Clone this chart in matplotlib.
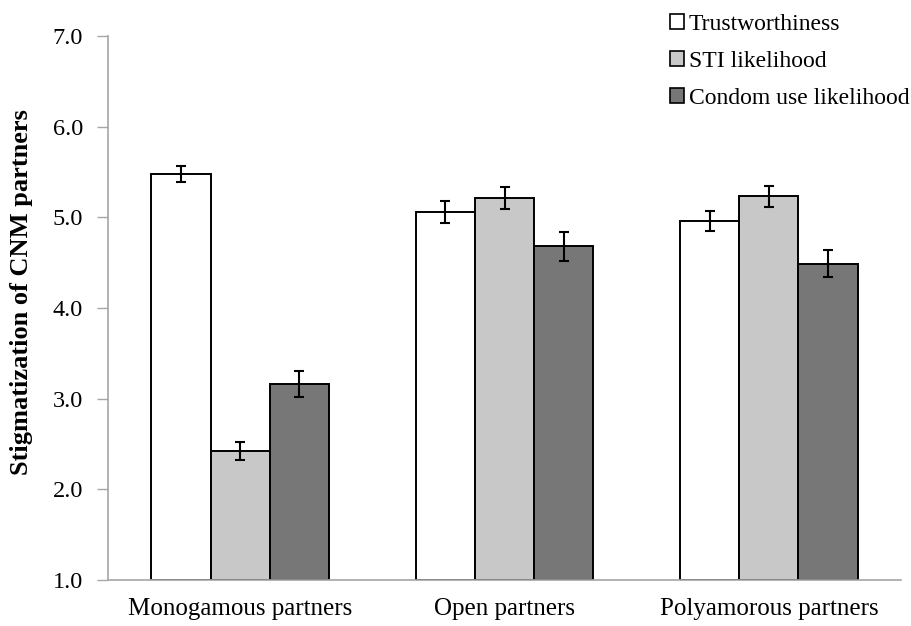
import matplotlib
matplotlib.use("Agg")
import matplotlib.pyplot as plt
import numpy as np

plt.rcParams['font.family'] = ['Liberation Serif', 'DejaVu Serif']

categories = ["Monogamous partners", "Open partners", "Polyamorous partners"]
series_names = ["Trustworthiness", "STI likelihood", "Condom use likelihood"]
trust = [5.48, 5.06, 4.96]
sti = [2.42, 5.21, 5.23]
condom = [3.16, 4.68, 4.49]
trust_err = [0.09, 0.12, 0.11]
sti_err = [0.10, 0.12, 0.12]
condom_err = [0.14, 0.16, 0.15]
yticks = [1.0, 2.0, 3.0, 4.0, 5.0, 6.0, 7.0]

colors = ["#ffffff", "#c8c8c8", "#777777"]
values = [trust, sti, condom]
errors = [trust_err, sti_err, condom_err]

fig = plt.figure(figsize=(9.12, 6.26), dpi=100)
ax = fig.add_axes([0.1184, 0.0735, 0.8696, 0.869])

x = np.arange(len(categories))
width = 0.224
base = 1.0
for i, (vals, errs, col, name) in enumerate(zip(values, errors, colors, series_names)):
    pos = x + (i - 1) * width
    heights = [v - base for v in vals]
    ax.bar(pos, heights, width, bottom=base, color=col, edgecolor="black",
           linewidth=1.4, label=name, zorder=2)
    ax.errorbar(pos, vals, yerr=errs, fmt="none", ecolor="black",
                elinewidth=1.5, capsize=3.6, capthick=1.5, zorder=3)

ax.set_xlim(-0.5, 2.5)
ax.set_ylim(1.0, 7.0)
ax.set_yticks(yticks)
ax.set_yticklabels([f"{t:.1f}" for t in yticks], fontsize=17.5)
ax.set_xticks(x)
ax.set_xticklabels(categories, fontsize=18)
ax.tick_params(axis="x", length=0, pad=13)
ax.tick_params(axis="y", length=8, color="#a6a6a6", width=1, pad=10)

for side in ["top", "right"]:
    ax.spines[side].set_visible(False)
for side in ["left", "bottom"]:
    ax.spines[side].set_color("#a6a6a6")
    ax.spines[side].set_linewidth(1.2)

ax.set_ylabel("Stigmatization of CNM partners", fontsize=19, fontweight="bold")
ax.yaxis.set_label_coords(-0.094, 0.53)

leg = fig.legend(loc="upper right", bbox_to_anchor=(0.997, 0.978), frameon=False,
                 fontsize=17, handlelength=0.6, handleheight=0.6,
                 handletextpad=0.2, labelspacing=0.68, borderpad=0.0,
                 borderaxespad=0.0)
for h in leg.legend_handles:
    h.set_linewidth(1.2)

fig.savefig("out.png", dpi=100)
